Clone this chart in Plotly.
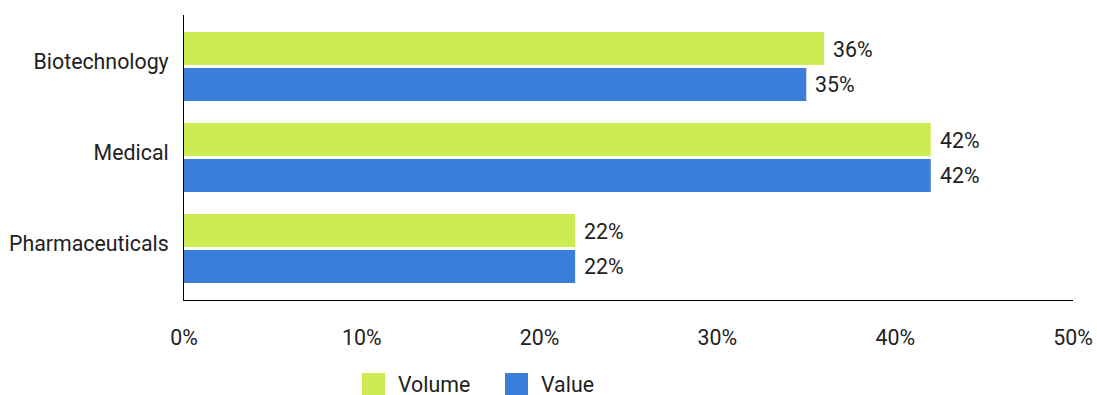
import plotly.graph_objects as go

categories = ["Pharmaceuticals", "Medical", "Biotechnology"]
volume = [22, 42, 36]
value = [22, 42, 35]
tick_vals = [0, 10, 20, 30, 40, 50]
tick_text = ["0%", "10%", "20%", "30%", "40%", "50%"]
series_names = ["Volume", "Value"]

GREEN = "#CDEC51"
BLUE = "#3B7DDA"
FONT = "Roboto"
FS = 21.33
TXT = "#222"

W, H = 1097, 395
ML, MR, MT, MB = 184, 24, 15, 95
PW, PH = W - ML - MR, H - MT - MB


def px_x(x):
    return (x - ML) / PW


def px_y(y):
    return (H - MB - y) / PH


fig = go.Figure()
# Plotly draws the first trace of a horizontal group at the bottom, so Value first
fig.add_trace(go.Bar(
    y=categories, x=value, orientation="h", name=series_names[1],
    marker=dict(color=BLUE, line=dict(width=0)), showlegend=False,
))
fig.add_trace(go.Bar(
    y=categories, x=volume, orientation="h", name=series_names[0],
    marker=dict(color=GREEN, line=dict(width=0)), showlegend=False,
))

# value labels
annotations = []
for cat, v in zip(categories, volume):
    annotations.append(dict(x=v, y=cat, text=f"{v}%", showarrow=False,
                            xanchor="left", yanchor="middle", xshift=7, yshift=17,
                            font=dict(family=FONT, size=FS, color=TXT)))
for cat, v in zip(categories, value):
    annotations.append(dict(x=v, y=cat, text=f"{v}%", showarrow=False,
                            xanchor="left", yanchor="middle", xshift=7, yshift=-18,
                            font=dict(family=FONT, size=FS, color=TXT)))

# legend (drawn as shapes + text so the swatches match the reference size)
shapes = []
legend_items = [(series_names[0], GREEN, 362, 397), (series_names[1], BLUE, 505, 540)]
for nm, col, sx, tx in legend_items:
    shapes.append(dict(type="rect", xref="paper", yref="paper",
                       x0=px_x(sx), x1=px_x(sx + 23), y0=px_y(373), y1=px_y(395),
                       fillcolor=col, line=dict(width=0)))
    annotations.append(dict(xref="paper", yref="paper", x=px_x(tx - 1), y=px_y(384),
                            text=nm, showarrow=False, xanchor="left", yanchor="middle",
                            font=dict(family=FONT, size=FS, color=TXT)))

fig.update_layout(
    width=W, height=H,
    margin=dict(l=ML, r=MR, t=MT, b=MB, autoexpand=False),
    paper_bgcolor="white", plot_bgcolor="white",
    barmode="group", bargap=0.209, bargroupgap=0.083,
    font=dict(family=FONT, size=FS, color=TXT),
    showlegend=False,
    annotations=annotations,
    shapes=shapes,
    xaxis=dict(range=[0, 50], tickvals=tick_vals, ticktext=tick_text,
               showgrid=False, zeroline=False, showline=True, linecolor="#000",
               linewidth=1, ticks="", ticklabelstandoff=18, automargin=False,
               tickfont=dict(family=FONT, size=FS, color=TXT)),
    yaxis=dict(type="category", categoryorder="array", categoryarray=categories,
               range=[-0.566, 2.566], showgrid=False, zeroline=False,
               showline=True, linecolor="#000", linewidth=1, ticks="",
               ticklabelstandoff=10, ticklabelshift=-5, automargin=False,
               tickfont=dict(family=FONT, size=FS, color=TXT)),
)

fig.write_html("out.html")
